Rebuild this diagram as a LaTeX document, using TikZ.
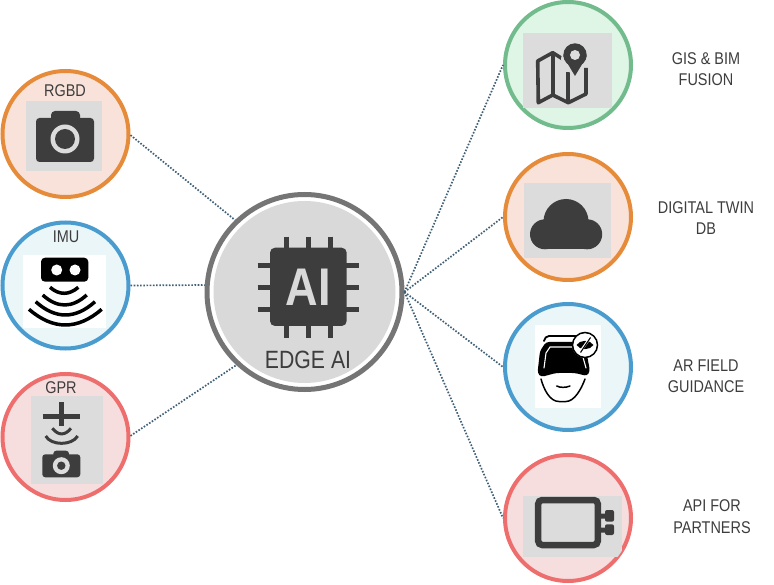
\documentclass[tikz,border=0pt]{standalone}
\usepackage{fontspec}
\setmainfont[FakeStretch=0.85]{Liberation Sans}
\definecolor{ink}{HTML}{3D3D3D}
\definecolor{panel}{HTML}{DCDCDC}
\definecolor{linkc}{HTML}{3F5F75}
\definecolor{orangeL}{HTML}{E58B3A}\definecolor{orangeF}{HTML}{F8E2D9}
\definecolor{blueL}{HTML}{4A9CCF}\definecolor{blueF}{HTML}{EBF6F8}
\definecolor{redL}{HTML}{EE6E6E}\definecolor{redF}{HTML}{F7DEDE}
\definecolor{greenL}{HTML}{72BB8C}\definecolor{greenF}{HTML}{DFF5E6}
\definecolor{hubL}{HTML}{757575}\definecolor{hubF}{HTML}{D9D9D9}
\tikzset{
  disc/.style={circle,minimum size=126pt,inner sep=0pt,line width=4pt},
  orangedisc/.style={disc,draw=orangeL,fill=orangeF},
  bluedisc/.style={disc,draw=blueL,fill=blueF},
  reddisc/.style={disc,draw=redL,fill=redF},
  greendisc/.style={disc,draw=greenL,fill=greenF},
  hubdisc/.style={circle,minimum size=195pt,inner sep=0pt,line width=5pt,draw=hubL,fill=white},
  link/.style={draw=linkc,line width=1.7pt,dash pattern=on 1.6pt off 1.6pt},
  lbl/.style={text=ink,font=\fontsize{17}{21.5}\selectfont,align=center,inner sep=0pt},
  panelbox/.style={fill=panel},
  wave/.style={draw=black,line width=3.5pt},
  inkwave/.style={draw=ink,line width=3pt},
}
\begin{document}
\begin{tikzpicture}[x=1pt,y=-1pt]
\useasboundingbox (0,0) rectangle (774,585);
% discs
\node[orangedisc] (rgbd) at (65.5,134) {};
\node[bluedisc] (imu) at (65.5,285.5) {};
\node[reddisc] (gpr) at (65.5,437) {};
\node[hubdisc] (hub) at (304.5,292) {};
\node[greendisc] (gis) at (568,65) {};
\node[orangedisc] (twin) at (568,217) {};
\node[bluedisc] (ar) at (568,367) {};
\node[reddisc] (api) at (568,518) {};
% connectors
\draw[link] (rgbd.-1) -- (hub.134);
\draw[link] (imu.east) -- (hub.176);
\draw[link] (gpr.1) -- (hub.227);
\draw[link] (hub.east) -- (gis.west);
\draw[link] (hub.east) -- (twin.west);
\draw[link] (hub.east) -- (ar.west);
\draw[link] (hub.east) -- (api.west);
% hub icon
\fill[hubF] (304.5,292) circle (91);
\foreach \yy in {266,287.7,309.3} \draw[ink,line width=5pt] (257.7,\yy) -- (359.3,\yy);
\foreach \xx in {286,308,330.3} \draw[ink,line width=5pt] (\xx,236.7) -- (\xx,338);
\fill[ink,rounded corners=5pt] (270,247.7) rectangle (346.7,326);
\node[text=hubF,font=\fontsize{53}{53}\bfseries,inner sep=0pt] (aitext) at (308.3,287) {AI};
\node[lbl,font=\fontsize{25}{25}\selectfont] (edge) at (308,360) {EDGE AI};
% RGBD
\fill[panelbox] (26,101) rectangle (102,171);
\fill[ink,rounded corners=3.5pt] (36,118) rectangle (94,162);
\fill[ink,rounded corners=4pt] (51,111) rectangle (80,125);
\fill[panel] (65,139) circle (14.5);
\fill[ink] (65,139) circle (10);
\node[lbl] (rgbdt) at (65,91) {RGBD};
% IMU
\fill[white] (23.3,255) rectangle (105.7,328);
\fill[black,rounded corners=4pt] (41,257.7) rectangle (88.3,281.7);
\fill[white] (56.7,270) circle (5.5) (75,270) circle (5.5);
\draw[wave] (50,287.3) .. controls (59.4,295.3) and (68.9,295.3) .. (78.3,287.3);
\draw[wave] (42.7,295) .. controls (57.4,308.3) and (72,308.3) .. (86.7,295);
\draw[wave] (35.7,301.7) .. controls (55.5,319.4) and (75.2,319.4) .. (95,301.7);
\draw[wave] (29,309.3) .. controls (53.2,330.2) and (77.5,330.2) .. (101.7,309.3);
\node[lbl] (imut) at (66,236.7) {IMU};
% GPR
\fill[panelbox] (31,396) rectangle (102.7,484);
\draw[ink,line width=5pt] (42.7,416.7) -- (80,416.7);
\draw[ink,line width=5pt] (61.3,402) -- (61.3,425.7);
\draw[inkwave] (52.3,428.3) .. controls (58.5,435.8) and (64.8,435.8) .. (71,428.3);
\draw[inkwave] (45.7,436) .. controls (51,445.8) and (72,445.8) .. (77.7,436);
\fill[ink,rounded corners=3pt] (42.3,454.3) rectangle (80.3,477.3);
\fill[ink,rounded corners=3pt] (53.3,450.7) rectangle (69,458);
\fill[panel] (61.3,465.7) circle (8.5);
\fill[ink] (61.3,465.7) circle (4.2);
\node[lbl] (gprt) at (61,388) {GPR};
% GIS
\fill[panelbox] (522.7,32.7) rectangle (612,107.7);
\draw[ink,line width=3.6pt,line join=round] (566,61) -- (552.7,52.7) -- (537.7,61) -- (538.3,102.7) -- (552.7,95) -- (568.3,102.7) -- (586,94) -- (586,68);
\draw[ink,line width=3.6pt] (552.7,52.7) -- (552.7,95) (568,72) -- (568,102.7);
\fill[panel] (561,60) arc (180:360:14) -- (575,80) -- cycle;
\fill[ink] (563.4,56.5) arc (187:353:11.7) -- (575,76) -- cycle;
\fill[ink] (575,55) circle (11.7);
\fill[panel] (575,55) circle (5);
% Cloud
\fill[panelbox] (524,182.7) rectangle (611,257.7);
\fill[ink] (566,221.5) circle (22.5) (545,234.3) circle (15) (587.2,234.3) circle (15);
\fill[ink] (545,221.5) rectangle (587.2,249.3);
% AR
\fill[white] (535,325) rectangle (601,408.3);
\draw[black,line width=1.8pt,line cap=round] (544,341) .. controls (545,338) and (546,336) .. (549,336) -- (578,336);
\fill[black,rounded corners=3pt] (546,342) -- (580,342) -- (586,350) -- (590,371) -- (587,376) -- (575,373) -- (556,373) -- (541,377) -- (537.5,373) -- (540,351) -- cycle;
\draw[white,line width=1.1pt,line cap=round] (544,368) -- (546,353) -- (550,347) -- (578,347);
\draw[white,line width=1.1pt,line cap=round] (581,350) -- (586,368);
\draw[black,line width=1.5pt,line cap=round] (541,379) .. controls (544,390) and (550,401.5) .. (559,401.5) -- (566,401.5) .. controls (574,401.5) and (581,390) .. (585,379);
\draw[black,line width=1.5pt,line cap=round] (556.7,386) .. controls (560,387.8) and (566,387.8) .. (570,386);
\fill[white] (585,345) circle (13);
\draw[black,line width=1.5pt] (585,345) circle (12.5);
\fill[black] (576.5,345) .. controls (580,339.5) and (590,339.5) .. (593.5,345) .. controls (590,350.5) and (580,350.5) .. (576.5,345) -- cycle;
\draw[white,line width=2.4pt] (580,352) -- (590,338);
\draw[black,line width=1.1pt] (580.5,352.5) -- (590.5,337.5);
% API
\begin{scope}
\clip (568,518) circle (63);
\fill[panelbox] (522.7,496) rectangle (622,557.3);
\end{scope}
\draw[ink,line width=6.5pt,rounded corners=4pt] (538.2,500) rectangle (597.8,545);
\fill[ink] (600,513.5) rectangle (607,518.5) (600,527.5) rectangle (607,532.5);
\fill[ink,rounded corners=2pt] (605,510) rectangle (614,521.7);
\fill[ink,rounded corners=2pt] (605,524.3) rectangle (614,535);
% right labels
\node[lbl] (gist) at (706,69) {GIS \& BIM\\FUSION};
\node[lbl] (twint) at (706,218) {DIGITAL TWIN\\DB};
\node[lbl] (art) at (706,376) {AR FIELD\\GUIDANCE};
\node[lbl] (apit) at (712,516.5) {API FOR\\PARTNERS};
\end{tikzpicture}
\end{document}
